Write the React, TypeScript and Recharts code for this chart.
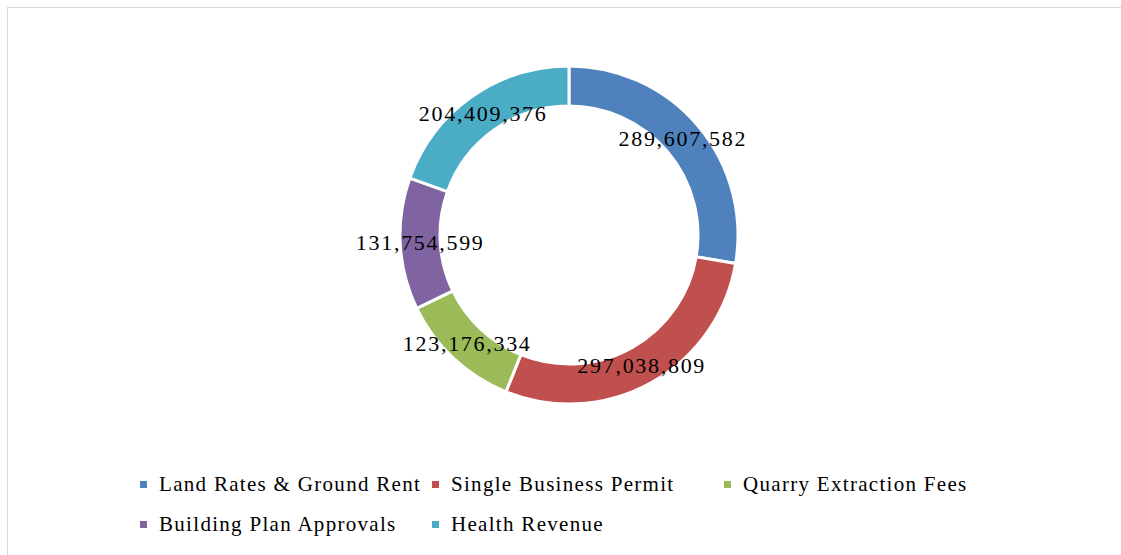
import { PieChart, Pie, Cell, Legend } from 'recharts';

const categories = [
  'Land Rates & Ground Rent',
  'Single Business Permit',
  'Quarry Extraction Fees',
  'Building Plan Approvals',
  'Health Revenue',
];
const values = [289607582, 297038809, 123176334, 131754599, 204409376];
const colors = ['#4F81BD', '#C0504D', '#9BBB59', '#8064A2', '#4BACC6'];

const data = categories.map((name, i) => ({ name, value: values[i], color: colors[i] }));

const FONT = '"Liberation Serif", "DejaVu Serif", serif';
const RAD = Math.PI / 180;

function renderLabel(props: any) {
  const { cx, cy, midAngle, innerRadius, outerRadius, value } = props;
  const r = (innerRadius + outerRadius) / 2;
  const x = cx + r * Math.cos(-midAngle * RAD);
  const y = cy + r * Math.sin(-midAngle * RAD);
  return (
    <text
      x={x}
      y={y}
      textAnchor="middle"
      dominantBaseline="central"
      fill="#000"
      style={{ fontFamily: FONT, fontSize: 22, letterSpacing: 1.7 }}
    >
      {value.toLocaleString('en-US')}
    </text>
  );
}

function LegendContent() {
  return (
    <div
      style={{
        display: 'grid',
        gridTemplateColumns: '292px 292px 292px',
        gridAutoRows: '40px',
        marginLeft: 140,
        fontFamily: FONT,
        fontSize: 21,
        letterSpacing: 1.3,
        color: '#000',
      }}
    >
      {data.map((d) => (
        <div key={d.name} style={{ display: 'flex', alignItems: 'center', whiteSpace: 'nowrap' }}>
          <span
            style={{ width: 7, height: 7, background: d.color, display: 'inline-block', marginRight: 12 }}
          />
          <span>{d.name}</span>
        </div>
      ))}
    </div>
  );
}

export default function App() {
  return (
    <div
      style={{
        position: 'fixed',
        left: 0,
        top: 0,
        width: 1121,
        height: 555,
        overflow: 'hidden',
        background: '#fff',
      }}
    >
      <div
        style={{
          position: 'absolute',
          left: 7,
          top: 7,
          width: 1200,
          height: 600,
          border: '1px solid #d9d9d9',
        }}
      />
      <div style={{ position: 'absolute', left: 0, top: 0 }}>
        <PieChart width={1121} height={555} margin={{ top: 0, right: 0, bottom: 0, left: 0 }}>
          <Pie
            data={data}
            dataKey="value"
            nameKey="name"
            cx={569}
            cy={235}
            innerRadius={129}
            outerRadius={169}
            startAngle={90}
            endAngle={-270}
            stroke="#fff"
            strokeWidth={3}
            label={renderLabel}
            labelLine={false}
            isAnimationActive={false}
          >
            {data.map((entry, index) => (
              <Cell key={`cell-${index}`} fill={entry.color} />
            ))}
          </Pie>
          <Legend
            content={<LegendContent />}
            wrapperStyle={{ position: 'absolute', top: 464, left: 0, width: 1121 }}
          />
        </PieChart>
      </div>
    </div>
  );
}
